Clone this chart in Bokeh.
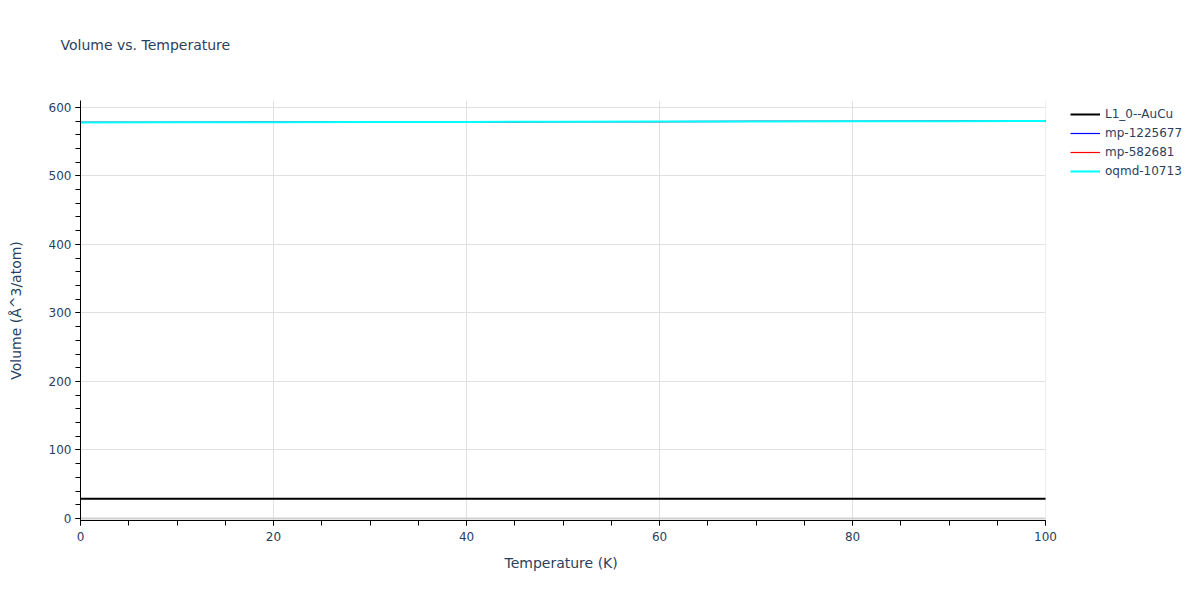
from bokeh.plotting import figure
from bokeh.models import (Legend, LegendItem, SingleIntervalTicker, FixedTicker,
                          Grid, BoxAnnotation, Title)
from bokeh.resources import INLINE
from bokeh.embed import file_html

# temperature grid (K)
temps = [0, 10, 20, 30, 40, 50, 60, 70, 80, 90, 100]

# volume per atom for each structure (Å^3/atom)
vol_l10_aucu = [28.8, 28.8, 28.8, 28.8, 28.8, 28.8, 28.8, 28.8, 28.8, 28.8, 28.8]
vol_mp_1225677 = [578.0, 578.2, 578.4, 578.6, 578.8, 579.0, 579.2, 579.4, 579.6, 579.8, 580.0]
vol_mp_582681 = [578.0, 578.2, 578.4, 578.6, 578.8, 579.0, 579.2, 579.4, 579.6, 579.8, 580.0]
vol_oqmd_10713 = [578.0, 578.2, 578.4, 578.6, 578.8, 579.0, 579.2, 579.4, 579.6, 579.8, 580.0]

series = [
    ("L1_0--AuCu", vol_l10_aucu, "black", 2),
    ("mp-1225677", vol_mp_1225677, "blue", 1.2),
    ("mp-582681", vol_mp_582681, "red", 1.2),
    ("oqmd-10713", vol_oqmd_10713, "cyan", 2),
]

text_color = "#2a3f5f"
grid_color = "#e0e0e0"
font = "DejaVu Sans"

# the frame runs to the right edge so the legend can sit beside the data;
# axis is bounded to 0..100 K and a white box hides the grid beyond it
p = figure(width=1184, height=584,
           x_range=(0, 114.4), y_range=(-3, 610),
           output_backend="svg", toolbar_location=None,
           min_border_left=80, min_border_right=0,
           min_border_top=100, min_border_bottom=64)

p.outline_line_color = None
p.background_fill_color = "white"

p.title.text = "Volume vs. Temperature"
p.title.text_font = font
p.title.text_font_size = "14px"
p.title.text_font_style = "normal"
p.title.text_color = text_color
p.title.offset = -20
p.title.standoff = 0

# blank spacer between the frame and the title
spacer = Title(text=" ", text_font=font, text_font_size="14px", standoff=30)
p.add_layout(spacer, "above")

p.xgrid.grid_line_color = grid_color
p.ygrid.grid_line_color = grid_color

zero = Grid(dimension=1, ticker=FixedTicker(ticks=[0]),
            grid_line_color="#d0d0d0", grid_line_width=2)
p.add_layout(zero)

mask = BoxAnnotation(left=100, fill_color="white", fill_alpha=1,
                     line_color=None, level="underlay")
p.add_layout(mask)

items = []
for name, vols, color, lw in series:
    r = p.line(x=temps, y=vols, line_color=color, line_width=lw)
    items.append(LegendItem(label=name, renderers=[r]))

legend = Legend(items=items, location=(990, 342))
legend.border_line_color = None
legend.background_fill_alpha = 0
legend.label_text_font = font
legend.label_text_font_size = "12px"
legend.label_text_color = text_color
legend.glyph_width = 30
legend.glyph_height = 14
legend.spacing = 5
legend.padding = 0
legend.margin = 0
legend.label_standoff = 5
p.add_layout(legend, "center")

p.xaxis.ticker = SingleIntervalTicker(interval=20, num_minor_ticks=4)
p.yaxis.ticker = SingleIntervalTicker(interval=100, num_minor_ticks=5)
p.xaxis.bounds = (0, 100)

for ax in (p.xaxis, p.yaxis):
    ax.axis_line_color = "black"
    ax.axis_line_width = 1
    ax.major_tick_line_color = "black"
    ax.minor_tick_line_color = "black"
    ax.major_tick_out = 5
    ax.major_tick_in = 0
    ax.minor_tick_out = 5
    ax.minor_tick_in = 0
    ax.major_label_text_font = font
    ax.major_label_text_font_size = "12px"
    ax.major_label_text_color = text_color
    ax.axis_label_text_font = font
    ax.axis_label_text_font_size = "14px"
    ax.axis_label_text_font_style = "normal"
    ax.axis_label_text_color = text_color

p.yaxis.axis_label = "Volume (Å^3/atom)"
p.yaxis.axis_label_standoff = 22
p.xaxis.major_label_standoff = 6
p.yaxis.major_label_standoff = 4

# x label as a title below, placed over the middle of 0..100 K
xlabel = Title(text="Temperature (K)", align="left", offset=424,
               text_font=font, text_font_size="14px", text_font_style="normal",
               text_color=text_color, standoff=18)
p.add_layout(xlabel, "below")

open("out.html", "w").write(file_html(p, INLINE))
